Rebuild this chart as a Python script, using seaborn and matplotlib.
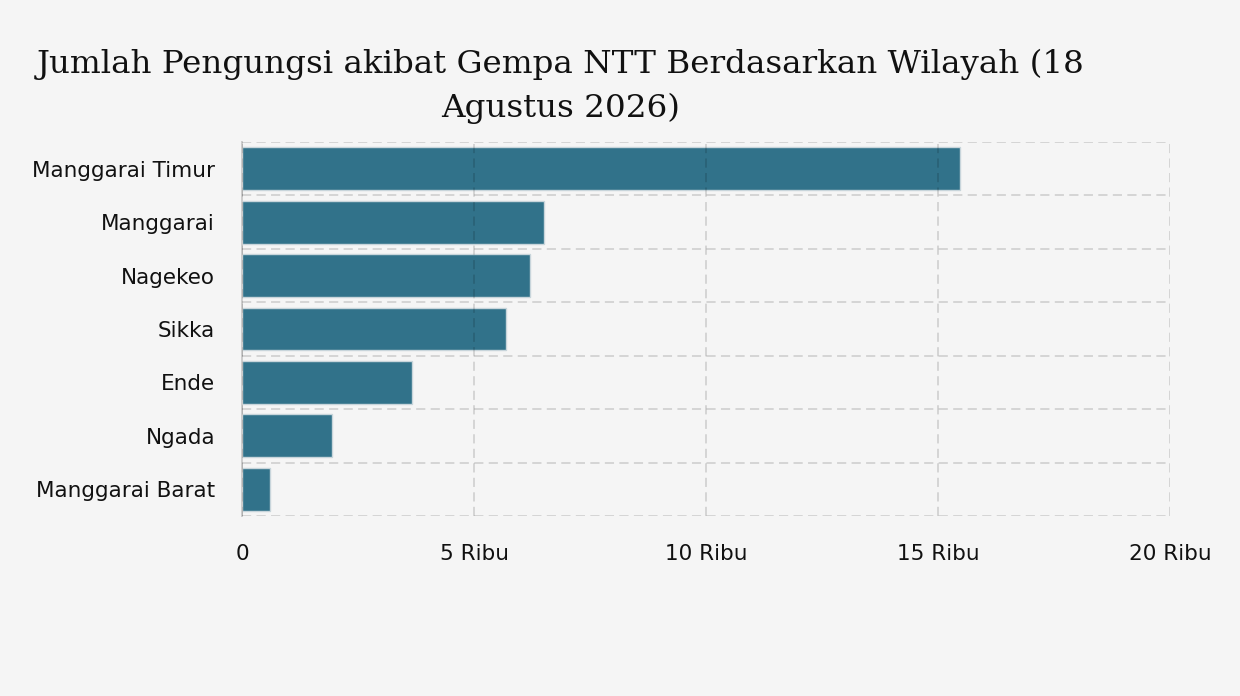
import matplotlib
matplotlib.use("Agg")
import matplotlib.pyplot as plt
import seaborn as sns
import pandas as pd
from matplotlib.ticker import FixedLocator, FuncFormatter

wilayah = ["Manggarai Timur", "Manggarai", "Nagekeo", "Sikka", "Ende", "Ngada", "Manggarai Barat"]
pengungsi = [15470, 6510, 6210, 5690, 3660, 1940, 600]
x_ticks = [0, 5000, 10000, 15000, 20000]
x_labels = ["0", "5 Ribu", "10 Ribu", "15 Ribu", "20 Ribu"]

df = pd.DataFrame({"Wilayah": wilayah, "Pengungsi": pengungsi})

bg = "#f5f5f5"
sns.set_style("white")
plt.rcParams["font.family"] = ["DejaVu Sans"]
plt.rcParams["text.color"] = "#111111"
plt.rcParams["xtick.color"] = "#111111"
plt.rcParams["ytick.color"] = "#111111"

fig = plt.figure(figsize=(12.4, 6.96), dpi=100, facecolor=bg)
ax = fig.add_axes([0.1952, 0.2586, 0.7483, 0.5374])
ax.set_facecolor(bg)

sns.barplot(data=df, x="Pengungsi", y="Wilayah", orient="h", color="#31728a",
            saturation=1, width=0.8, edgecolor="#c8d5db", linewidth=1, ax=ax)

ax.set_xlim(0, 20000)
ax.set_ylim(len(wilayah) - 0.5, -0.5)
ax.xaxis.set_major_locator(FixedLocator(x_ticks))
ax.xaxis.set_major_formatter(FuncFormatter(lambda v, p: x_labels[x_ticks.index(int(v))] if int(v) in x_ticks else ""))
ax.yaxis.set_minor_locator(FixedLocator([i - 0.5 for i in range(len(wilayah) + 1)]))

# grid sits on top of the bars, semi transparent
grid_kw = dict(color="black", alpha=0.17, linewidth=1.1, linestyle=(0, (6, 3.5)))
ax.set_axisbelow(False)
ax.grid(axis="x", which="major", **grid_kw)
ax.grid(axis="y", which="minor", **grid_kw)
ax.grid(axis="y", which="major", visible=False)

for side in ["top", "right", "bottom"]:
    ax.spines[side].set_visible(False)
ax.spines["left"].set_color("#cccccc")
ax.spines["left"].set_linewidth(1.4)

ax.tick_params(axis="y", which="major", length=8.6, width=1.4, color="#cccccc",
               labelcolor="#111111", pad=10.8, labelsize=15.5)
ax.tick_params(axis="y", which="minor", length=0)
ax.tick_params(axis="x", which="major", length=0, pad=20, labelsize=15.5, labelcolor="#111111")
ax.set_xlabel("")
ax.set_ylabel("")

fig.text(0.452, 0.93, "Jumlah Pengungsi akibat Gempa NTT Berdasarkan Wilayah (18\nAgustus 2026)",
         ha="center", va="top", ma="center", fontsize=23.4, family="DejaVu Serif",
         linespacing=1.53, color="#111111")

fig.savefig("out.png", dpi=100, facecolor=bg)
